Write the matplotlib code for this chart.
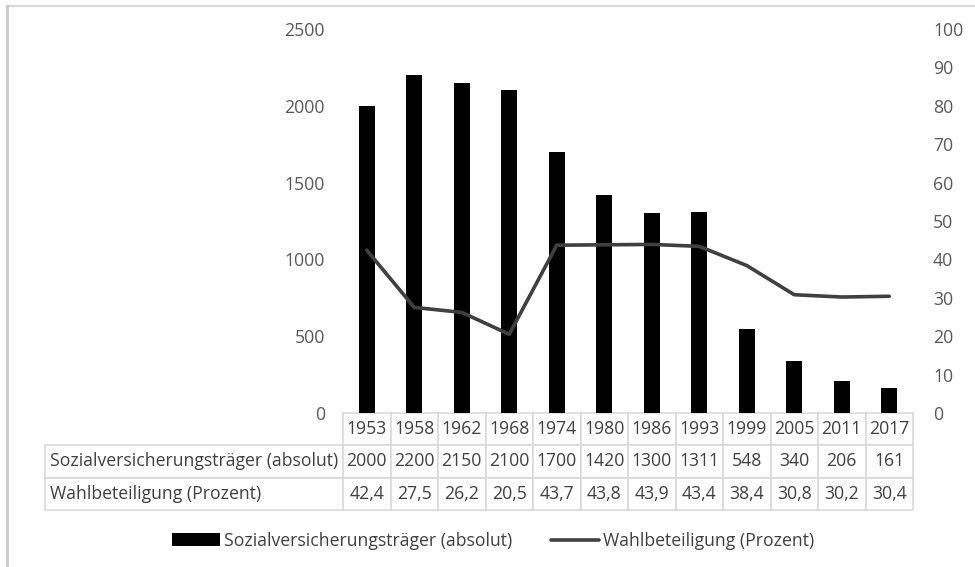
import matplotlib
matplotlib.use('Agg')
import matplotlib.pyplot as plt
from matplotlib.table import Table
from matplotlib.lines import Line2D
from matplotlib.patches import Patch

plt.rcParams['font.family'] = ['Open Sans', 'DejaVu Sans']

jahre = ['1953', '1958', '1962', '1968', '1974', '1980', '1986', '1993', '1999', '2005', '2011', '2017']
traeger = [2000, 2200, 2150, 2100, 1700, 1420, 1300, 1311, 548, 340, 206, 161]
beteiligung = [42.4, 27.5, 26.2, 20.5, 43.7, 43.8, 43.9, 43.4, 38.4, 30.8, 30.2, 30.4]
name_bar = 'Sozialversicherungsträger (absolut)'
name_line = 'Wahlbeteiligung (Prozent)'

W, H = 975, 567
fs = 12.7
txt = '#404040'
tick_col = '#595959'
grid_col = '#d9d9d9'

fig = plt.figure(figsize=(W / 100, H / 100), dpi=100)
# plot area in pixels: x 343..913, y 29..413
ax = fig.add_axes([343 / W, 1 - 413 / H, 570 / W, 384 / H])
ax2 = ax.twinx()

x = list(range(len(jahre)))
ax.bar(x, traeger, width=0.34, color='black', zorder=2)
ax2.plot(x, beteiligung, color='#404040', lw=2.6, solid_capstyle='round', solid_joinstyle='round')

ax.set_xlim(-0.5, len(jahre) - 0.5)
ax.set_ylim(0, 2500)
ax2.set_ylim(0, 100)
ax.set_yticks(range(0, 2501, 500))
ax2.set_yticks(range(0, 101, 10))
ax.set_xticks([])
for a in (ax, ax2):
    for s in a.spines.values():
        s.set_visible(False)
    a.tick_params(axis='y', length=0, labelsize=fs, labelcolor=tick_col)
ax.tick_params(axis='y', pad=13)
ax2.tick_params(axis='y', pad=14.4)

# data table under the plot (bbox covers the year columns, labels stick out left)
label_w = 298 / 570
tbl_h = 97 / 384
tb = Table(ax, bbox=[0, -tbl_h, 1, tbl_h])
rh = 1 / 3
cw = 1 / len(jahre)
for j, jahr in enumerate(jahre):
    tb.add_cell(0, j, cw, rh, text=jahr, loc='center')
rows = [(name_bar, [str(v) for v in traeger]),
        (name_line, [f'{v:.1f}'.replace('.', ',') for v in beteiligung])]
for i, (lab, vals) in enumerate(rows, start=1):
    c = tb.add_cell(i, -1, label_w, rh, text=lab, loc='left')
    c.PAD = 5 / 298
    for j, v in enumerate(vals):
        tb.add_cell(i, j, cw, rh, text=v, loc='center')
tb.auto_set_font_size(False)
tb.set_fontsize(fs)
for cell in tb.get_celld().values():
    cell.set_edgecolor(grid_col)
    cell.set_linewidth(1.2)
    cell.get_text().set_color(txt)
ax.add_table(tb)

# legend
handles = [Patch(facecolor='black', edgecolor='none'),
           Line2D([], [], color='#404040', lw=2.6, solid_capstyle='round')]
fig.legend(handles, [name_bar, name_line], loc='center', bbox_to_anchor=(493 / W, 1 - 541 / H),
           ncol=2, frameon=False, fontsize=fs, labelcolor=txt, handlelength=2.7,
           handleheight=0.75, handletextpad=0.23, columnspacing=2.2)

# chart frame (top and left edge visible)
fig.add_artist(Line2D([7 / W, 1], [1 - 6 / H, 1 - 6 / H], color=grid_col, lw=1.5))
fig.add_artist(Line2D([7 / W, 7 / W], [0, 1 - 6 / H], color='#cccccc', lw=2.2))

fig.savefig('out.png', dpi=100)
